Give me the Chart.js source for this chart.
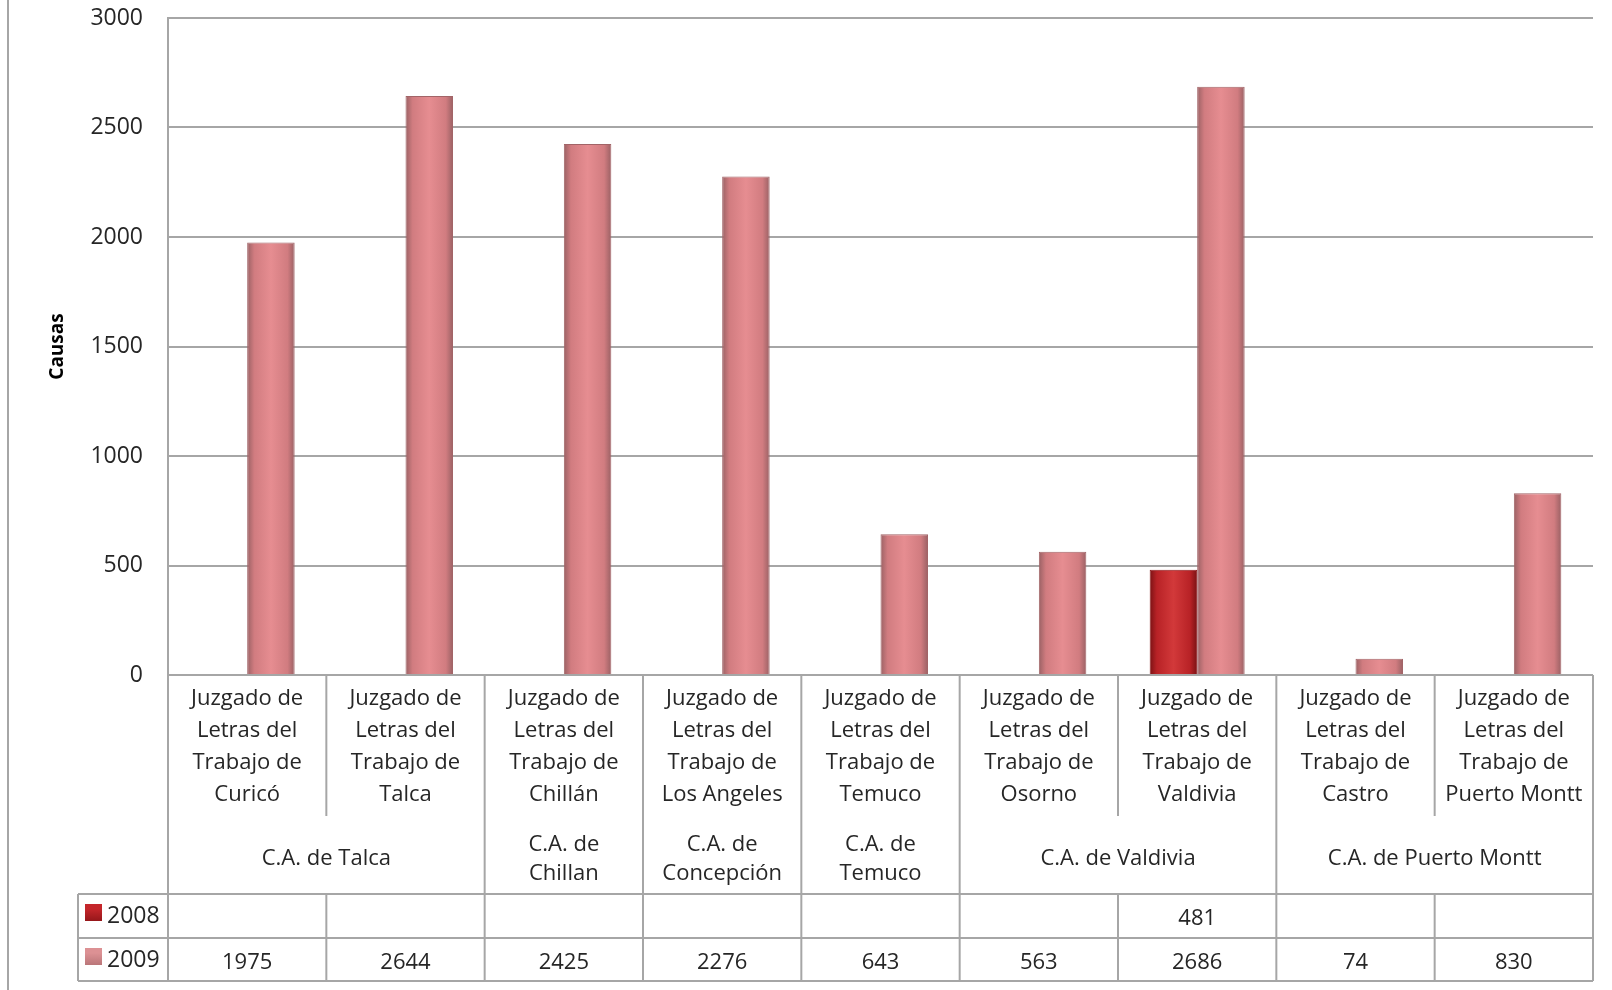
<!DOCTYPE html>
<html>
<head>
<meta charset="utf-8">
<script src="https://cdn.jsdelivr.net/npm/chart.js@4"></script>
<style>
  html, body { margin: 0; padding: 0; background: #fff; }
  canvas { display: block; }
</style>
</head>
<body>
<canvas id="chart" width="1612" height="990"></canvas>
<script>
// categories (one entry per court, split in lines as on the table)
const categories = [
  ['Juzgado de', 'Letras del', 'Trabajo de', 'Curicó'],
  ['Juzgado de', 'Letras del', 'Trabajo de', 'Talca'],
  ['Juzgado de', 'Letras del', 'Trabajo de', 'Chillán'],
  ['Juzgado de', 'Letras del', 'Trabajo de', 'Los Angeles'],
  ['Juzgado de', 'Letras del', 'Trabajo de', 'Temuco'],
  ['Juzgado de', 'Letras del', 'Trabajo de', 'Osorno'],
  ['Juzgado de', 'Letras del', 'Trabajo de', 'Valdivia'],
  ['Juzgado de', 'Letras del', 'Trabajo de', 'Castro'],
  ['Juzgado de', 'Letras del', 'Trabajo de', 'Puerto Montt']
];
const groupLabels = [
  ['C.A. de Talca'],
  ['C.A. de', 'Chillan'],
  ['C.A. de', 'Concepción'],
  ['C.A. de', 'Temuco'],
  ['C.A. de Valdivia'],
  ['C.A. de Puerto Montt']
];
const groupSpans = [2, 1, 1, 1, 2, 2];
const seriesNames = ['2008', '2009'];
const values2008 = [null, null, null, null, null, null, 481, null, null];
const values2009 = [1975, 2644, 2425, 2276, 643, 563, 2686, 74, 830];
const yTicks = [0, 500, 1000, 1500, 2000, 2500, 3000];

const LINE = '#a6a6a6';
const TEXT = '#262626';
const FONT = "'Open Sans', sans-serif";

// horizontal shading so the bars look like the rounded 3D columns
function barShade(stops) {
  return ctx => {
    const chart = ctx.chart;
    const x = chart.scales.x;
    if (!x || !chart.chartArea || ctx.dataIndex === undefined) return stops[1];
    const w = (chart.chartArea.right - chart.chartArea.left) / categories.length * 0.6 / 2;
    const c = x.getPixelForValue(ctx.dataIndex);
    const left = ctx.datasetIndex === 0 ? c - w : c;
    const g = chart.ctx.createLinearGradient(left, 0, left + w, 0);
    g.addColorStop(0, stops[0]);
    g.addColorStop(0.15, stops[1]);
    g.addColorStop(0.5, stops[2]);
    g.addColorStop(0.85, stops[1]);
    g.addColorStop(1, stops[0]);
    return g;
  };
}

const tablePlugin = {
  id: 'dataTable',
  afterDraw(chart) {
    const { ctx, chartArea: a } = chart;
    const n = categories.length;
    const w = (a.right - a.left) / n;
    const bx = i => a.left + i * w;
    const y0 = a.bottom, y1 = 816, y2 = 894, y3 = 938, y4 = 981, legL = 78;

    ctx.save();
    ctx.strokeStyle = LINE;
    ctx.lineWidth = 2;
    const line = (x1, ya, x2, yb) => { ctx.beginPath(); ctx.moveTo(x1, ya); ctx.lineTo(x2, yb); ctx.stroke(); };

    // outer frame line on the far left
    line(8, 0, 8, 990);

    line(legL, y2, a.right, y2);
    line(legL, y3, a.right, y3);
    line(legL, y4, a.right, y4);
    line(a.left, y0, a.left, y4);
    line(a.right, y0, a.right, y4);
    line(legL, y2, legL, y4);

    const groupEdges = [];
    let acc = 0;
    groupSpans.forEach(s => { acc += s; groupEdges.push(acc); });
    for (let i = 1; i < n; i++) {
      line(bx(i), y0, bx(i), y1);
      if (groupEdges.includes(i)) line(bx(i), y1, bx(i), y2);
      line(bx(i), y2, bx(i), y4);
    }

    ctx.fillStyle = TEXT;
    ctx.font = '22px ' + FONT;
    ctx.textAlign = 'center';
    ctx.textBaseline = 'middle';

    categories.forEach((lines, i) => {
      const cx = bx(i) + w / 2;
      lines.forEach((t, k) => ctx.fillText(t, cx, 699 + k * 32));
    });

    let start = 0;
    groupLabels.forEach((lines, g) => {
      const cx = bx(start) + groupSpans[g] * w / 2;
      const mid = (y1 + y2) / 2 + 4;
      lines.forEach((t, k) => ctx.fillText(t, cx, mid + (k - (lines.length - 1) / 2) * 29));
      start += groupSpans[g];
    });

    const rows = [values2008, values2009];
    const rowY = [919, 963];
    const swatch = [['#7e0f12', '#c4262a'], ['#a9686b', '#dc9194']];
    rows.forEach((vals, r) => {
      vals.forEach((v, i) => {
        if (v !== null) ctx.fillText(String(v), bx(i) + w / 2, rowY[r]);
      });
      const g = ctx.createLinearGradient(0, rowY[r] - 10, 0, rowY[r] + 8);
      g.addColorStop(0, swatch[r][1]);
      g.addColorStop(1, swatch[r][0]);
      ctx.fillStyle = g;
      ctx.fillRect(85, rowY[r] - 15, 17, 17);
      ctx.fillStyle = TEXT;
      ctx.textAlign = 'left';
      ctx.font = '23px ' + FONT;
      ctx.fillText(seriesNames[r], 107, rowY[r] - 3);
      ctx.font = '22px ' + FONT;
      ctx.textAlign = 'center';
    });
    ctx.restore();
  }
};

new Chart(document.getElementById('chart'), {
  type: 'bar',
  data: {
    labels: categories.map(c => c.join(' ')),
    datasets: [
      {
        label: seriesNames[0], data: values2008,
        backgroundColor: barShade(['#7a1214', '#b82226', '#d2393a']),
        borderColor: '#8d1a1c', borderWidth: 1,
        categoryPercentage: 0.6, barPercentage: 1
      },
      {
        label: seriesNames[1], data: values2009,
        backgroundColor: barShade(['#9a6164', '#d17c80', '#e68d91']),
        borderColor: '#a26467', borderWidth: 1,
        categoryPercentage: 0.6, barPercentage: 1
      }
    ]
  },
  options: {
    responsive: false,
    animation: false,
    layout: { padding: { left: 0, right: 19, top: 18, bottom: 307 } },
    plugins: { legend: { display: false }, tooltip: { enabled: false } },
    scales: {
      x: {
        ticks: { display: false },
        grid: { display: false },
        border: { display: false }
      },
      y: {
        min: 0, max: 3000,
        afterBuildTicks: s => { s.ticks = yTicks.map(v => ({ value: v })); },
        afterFit: s => { s.width = 168; s.paddingTop = 0; s.paddingBottom = 0; },
        ticks: { color: TEXT, font: { family: FONT, size: 23 }, padding: 25, callback: v => String(v) },
        grid: { color: LINE, lineWidth: 2, drawTicks: false },
        border: { color: LINE, width: 2 },
        title: {
          display: true, text: 'Causas', color: '#000',
          font: { family: FONT, size: 19, weight: 'bold' },
          padding: { top: 46, bottom: 0 }
        }
      }
    }
  },
  plugins: [tablePlugin]
});
</script>
</body>
</html>
